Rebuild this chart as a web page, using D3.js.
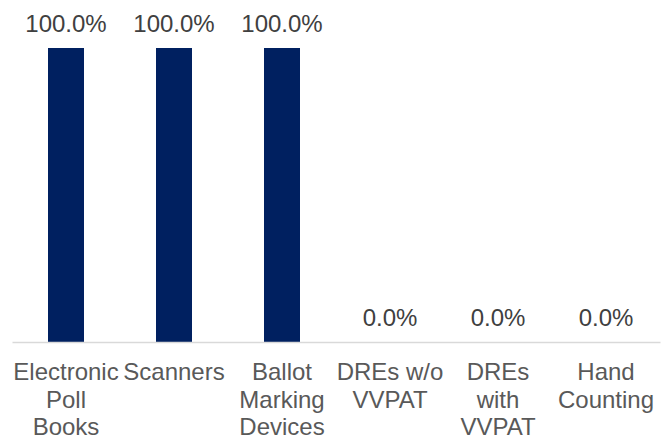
<!DOCTYPE html>
<html>
<head>
<meta charset="utf-8">
<script src="https://cdn.jsdelivr.net/npm/d3@7"></script>
<style>
  html, body { margin: 0; padding: 0; background: #ffffff; }
  svg { display: block; }
  text { font-family: "Liberation Sans", Arial, sans-serif; }
</style>
</head>
<body>
<svg id="chart" width="664" height="439"></svg>
<script>
const categories = ["Electronic\nPoll\nBooks", "Scanners", "Ballot\nMarking\nDevices", "DREs w/o\nVVPAT", "DREs\nwith\nVVPAT", "Hand\nCounting"];
const values = [1.0, 1.0, 1.0, 0.0, 0.0, 0.0];

(function () {
const plotLeft = 12, plotRight = 660, plotTop = 48, plotBase = 342;
const svg = d3.select("#chart");

const x = d3.scaleBand().domain(categories).range([plotLeft, plotRight]).paddingInner(2/3).paddingOuter(1/3);
const y = d3.scaleLinear().domain([0, 1]).range([plotBase, plotTop]);
const fmt = d3.format(".1%");

svg.selectAll("rect.bar").data(values).join("rect")
  .attr("class", "bar")
  .attr("x", (d, i) => x(categories[i]))
  .attr("width", x.bandwidth())
  .attr("y", d => y(d))
  .attr("height", d => y(0) - y(d))
  .attr("fill", "#002060");

const axis = d3.axisBottom(x).tickSize(0).tickFormat("");
const gAxis = svg.append("g").attr("transform", `translate(0,${plotBase})`).call(axis);
gAxis.select(".domain").attr("stroke", "#d9d9d9").attr("stroke-width", 1.5);

svg.selectAll("text.val").data(values).join("text")
  .attr("class", "val")
  .attr("x", (d, i) => x(categories[i]) + x.bandwidth() / 2)
  .attr("y", d => y(d) - 16)
  .attr("text-anchor", "middle")
  .attr("font-size", "24px")
  .attr("fill", "#404040")
  .text(d => fmt(d));

const cl = svg.selectAll("text.cat").data(categories).join("text")
  .attr("class", "cat")
  .attr("text-anchor", "middle")
  .attr("font-size", "24px")
  .attr("fill", "#595959");
cl.each(function (d) {
  const t = d3.select(this);
  const cx = x(d) + x.bandwidth() / 2;
  d.split("\n").forEach((line, j) => {
    t.append("tspan").attr("x", cx).attr("y", 380 + j * 27.5).text(line);
  });
});
})();
</script>
</body>
</html>
